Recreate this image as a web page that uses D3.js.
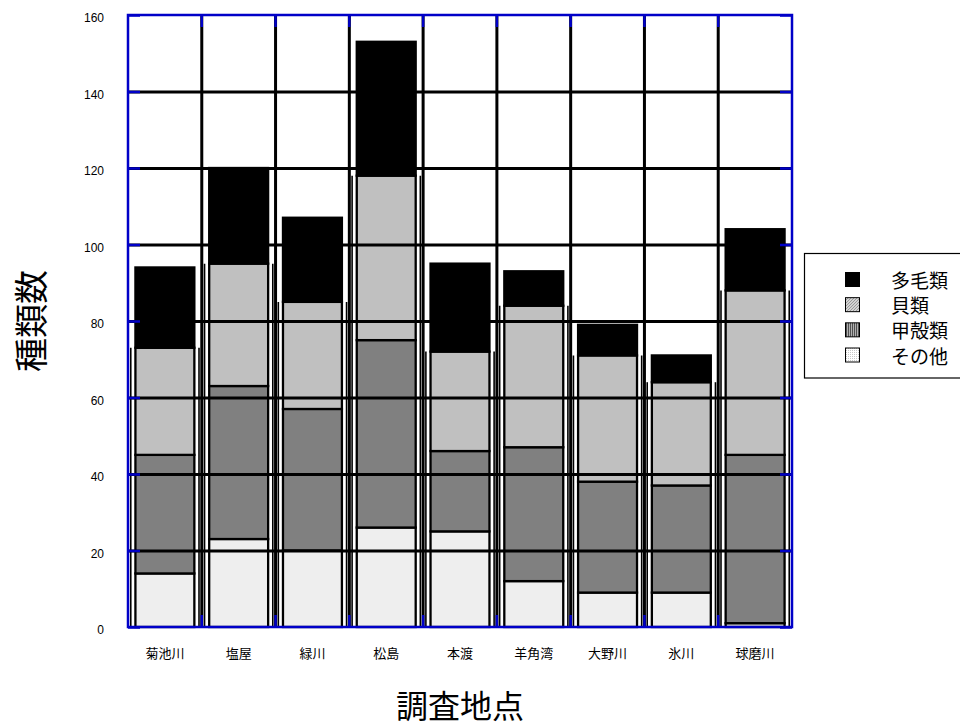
<!DOCTYPE html>
<html lang="ja">
<head>
<meta charset="utf-8">
<script src="https://cdn.jsdelivr.net/npm/d3@7"></script>
<style>
  html, body { margin: 0; padding: 0; background: #fff; }
  svg { display: block; }
  text { font-family: "Liberation Sans", Arial, "Noto Sans CJK JP", sans-serif; }
  .jp { font-family: "Noto Sans CJK JP", "Noto Sans", sans-serif; }
</style>
</head>
<body>
<script>
// 調査地点ごとの種類数（分類群別）
const categories = ['菊池川', '塩屋', '緑川', '松島', '本渡', '羊角湾', '大野川', '氷川', '球磨川'];
const sonota    = [14, 23, 20, 26, 25, 12, 9, 9, 1];    // その他
const koukaku   = [31, 40, 37, 49, 21, 35, 29, 28, 44]; // 甲殻類
const kairui    = [28, 32, 28, 43, 26, 37, 33, 27, 43]; // 貝類
const tamou     = [21, 25, 22, 35, 23, 9, 8, 7, 16];    // 多毛類
const seriesNames = ['その他', '甲殻類', '貝類', '多毛類'];
const legendOrder = ['多毛類', '貝類', '甲殻類', 'その他'];
const yTicks = [0, 20, 40, 60, 80, 100, 120, 140, 160];
const xTitle = '調査地点';
const yTitle = '種類数';

const W = 960, H = 728;
const plot = { left: 128, right: 792, top: 15, bottom: 627 };
const fills = { 'その他': '#eeeeee', '甲殻類': '#808080', '貝類': '#c0c0c0', '多毛類': '#000000' };
const axisBlue = '#0000c8';

const rows = categories.map((c, i) => ({
  cat: c, 'その他': sonota[i], '甲殻類': koukaku[i], '貝類': kairui[i], '多毛類': tamou[i]
}));

const svg = d3.select('body').append('svg').attr('width', W).attr('height', H);

// パターン（凡例用）
const defs = svg.append('defs');
const pKai = defs.append('pattern').attr('id', 'p-kai').attr('width', 3).attr('height', 3)
  .attr('patternUnits', 'userSpaceOnUse');
pKai.append('rect').attr('width', 3).attr('height', 3).attr('fill', '#d4d4d4');
pKai.append('path').attr('d', 'M0,3 L3,0').attr('stroke', '#8a8a8a').attr('stroke-width', 0.8);
const pKou = defs.append('pattern').attr('id', 'p-kou').attr('width', 2).attr('height', 2)
  .attr('patternUnits', 'userSpaceOnUse');
pKou.append('rect').attr('width', 2).attr('height', 2).attr('fill', '#b0b0b0');
pKou.append('rect').attr('width', 1).attr('height', 2).attr('fill', '#505050');
const pSon = defs.append('pattern').attr('id', 'p-son').attr('width', 2).attr('height', 2)
  .attr('patternUnits', 'userSpaceOnUse');
pSon.append('rect').attr('width', 2).attr('height', 2).attr('fill', '#ffffff');
pSon.append('rect').attr('width', 1).attr('height', 1).attr('fill', '#c8c8c8');
const legendFill = { '多毛類': '#000', '貝類': 'url(#p-kai)', '甲殻類': 'url(#p-kou)', 'その他': 'url(#p-son)' };

const x = d3.scaleBand().domain(categories)
  .range([plot.left, plot.right]).paddingInner(0.17).paddingOuter(0.085);
const y = d3.scaleLinear().domain([0, 160]).range([plot.bottom, plot.top]);

const stacked = d3.stack().keys(seriesNames)(rows);

// 積み上げ棒
const barG = svg.append('g');
const sw = 2.3;
stacked.forEach(layer => {
  barG.append('g').selectAll('rect').data(layer).join('rect')
    .attr('x', d => x(d.data.cat) + sw / 2)
    .attr('width', x.bandwidth() - sw)
    .attr('y', d => y(d[1]))
    .attr('height', d => y(d[0]) - y(d[1]))
    .attr('fill', fills[layer.key])
    .attr('stroke', '#000')
    .attr('stroke-width', sw);
});

// 棒の外側の縦線（多毛類を除く部分）
const outerGap = 3.5;
const topNonBlack = stacked[2];
barG.append('g').selectAll('line').data(topNonBlack.flatMap(d => [
  { xv: x(d.data.cat) - outerGap, top: d[1] },
  { xv: x(d.data.cat) + x.bandwidth() + outerGap, top: d[1] }
])).join('line')
  .attr('x1', d => d.xv).attr('x2', d => d.xv)
  .attr('y1', y(0)).attr('y2', d => y(d.top))
  .attr('stroke', '#000').attr('stroke-width', 1.6);

// 目盛線（黒）
const gridG = svg.append('g');
gridG.append('g')
  .attr('transform', `translate(${plot.left},0)`)
  .call(d3.axisLeft(y).tickValues(yTicks.filter(v => v > 0 && v < 160))
    .tickSize(-(plot.right - plot.left)).tickFormat(''))
  .call(g => g.select('.domain').remove())
  .call(g => g.selectAll('line').attr('stroke', '#000').attr('stroke-width', 3));

const boundaries = categories.slice(1).map(c => x(c) - x.step() * x.paddingInner() / 2);
gridG.append('g').selectAll('line').data(boundaries).join('line')
  .attr('x1', d => d).attr('x2', d => d)
  .attr('y1', plot.top).attr('y2', plot.bottom)
  .attr('stroke', '#000').attr('stroke-width', 3);

// 枠と内向き目盛（青）
const frameG = svg.append('g');
frameG.append('rect')
  .attr('x', plot.left).attr('y', plot.top)
  .attr('width', plot.right - plot.left).attr('height', plot.bottom - plot.top)
  .attr('fill', 'none').attr('stroke', axisBlue).attr('stroke-width', 2.5);

const tickLen = 12;
frameG.append('g').attr('transform', `translate(${plot.left},0)`)
  .call(d3.axisLeft(y).tickValues(yTicks).tickSize(-tickLen).tickFormat(''))
  .call(g => g.select('.domain').remove())
  .call(g => g.selectAll('line').attr('stroke', axisBlue).attr('stroke-width', 2.5));
frameG.append('g').attr('transform', `translate(${plot.right},0)`)
  .call(d3.axisRight(y).tickValues(yTicks).tickSize(-tickLen).tickFormat(''))
  .call(g => g.select('.domain').remove())
  .call(g => g.selectAll('line').attr('stroke', axisBlue).attr('stroke-width', 2.5));
frameG.append('g').selectAll('line').data(boundaries).join('line')
  .attr('x1', d => d).attr('x2', d => d)
  .attr('y1', plot.bottom).attr('y2', plot.bottom - tickLen)
  .attr('stroke', axisBlue).attr('stroke-width', 2.5);
frameG.append('g').selectAll('line').data(boundaries).join('line')
  .attr('x1', d => d).attr('x2', d => d)
  .attr('y1', plot.top).attr('y2', plot.top + tickLen)
  .attr('stroke', axisBlue).attr('stroke-width', 2.5);

// Y軸ラベル
svg.append('g').attr('transform', `translate(${plot.left - 24},0)`)
  .call(d3.axisLeft(y).tickValues(yTicks).tickSize(0).tickPadding(0))
  .call(g => g.select('.domain').remove())
  .call(g => g.selectAll('text')
    .attr('font-size', 12).attr('fill', '#000')
    .attr('font-family', '"Liberation Sans", Arial, sans-serif')
    .attr('dy', '0.55em'));

// X軸ラベル
svg.append('g').attr('transform', `translate(0,${plot.bottom})`)
  .call(d3.axisBottom(x).tickSize(0).tickPadding(22))
  .call(g => g.select('.domain').remove())
  .call(g => g.selectAll('text')
    .attr('class', 'jp').attr('font-size', 13).attr('fill', '#000'));

// 軸タイトル
svg.append('text').attr('class', 'jp')
  .attr('x', (plot.left + plot.right) / 2).attr('y', 718)
  .attr('text-anchor', 'middle').attr('font-size', 32).attr('fill', '#000')
  .text(xTitle);
svg.append('text').attr('class', 'jp')
  .attr('transform', `translate(29,${(plot.top + plot.bottom) / 2}) rotate(-90)`)
  .attr('text-anchor', 'middle').attr('dominant-baseline', 'central')
  .attr('font-size', 34).attr('fill', '#000')
  .text(yTitle);

// 凡例
const lg = svg.append('g');
lg.append('rect').attr('x', 804.5).attr('y', 253.5).attr('width', 170).attr('height', 124.5)
  .attr('fill', '#fff').attr('stroke', '#000').attr('stroke-width', 1.2);
const lgRow = d3.scalePoint().domain(legendOrder).range([279.5, 355]);
legendOrder.forEach(name => {
  lg.append('rect').attr('x', 845.5).attr('y', lgRow(name) - 7).attr('width', 14).attr('height', 14)
    .attr('fill', legendFill[name]).attr('stroke', '#000').attr('stroke-width', 1);
  lg.append('text').attr('class', 'jp').attr('x', 891).attr('y', lgRow(name))
    .attr('dominant-baseline', 'central').attr('font-size', 19).attr('fill', '#000')
    .text(name);
});
</script>
</body>
</html>
